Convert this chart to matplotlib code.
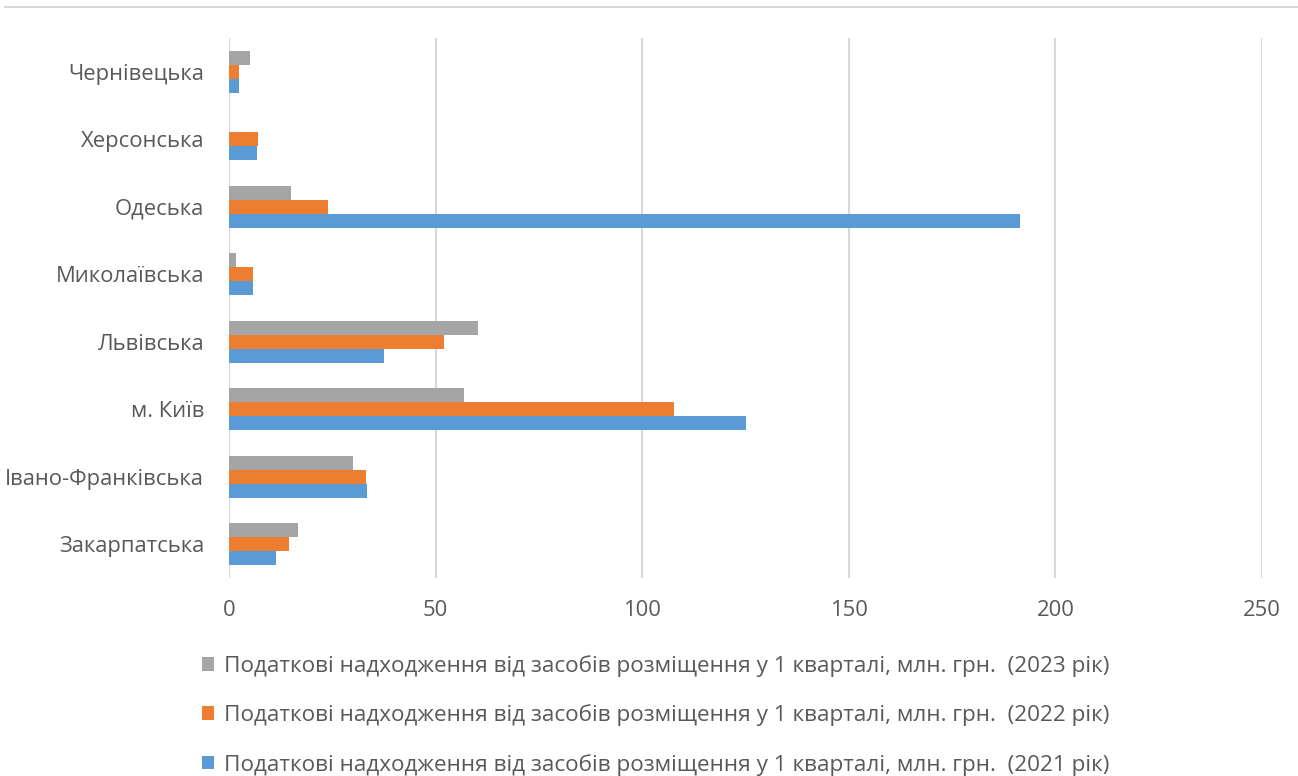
import matplotlib
matplotlib.use("Agg")
import matplotlib.pyplot as plt
from matplotlib.lines import Line2D
import numpy as np

# Regions, listed bottom to top as they appear on the axis
regions = ["Закарпатська", "Івано-Франківська", "м. Київ", "Львівська",
           "Миколаївська", "Одеська", "Херсонська", "Чернівецька"]

# Tax revenues from accommodation facilities, Q1, mln UAH
rev_2021 = [11.3, 33.4, 125.2, 37.5, 5.9, 191.5, 6.7, 2.4]
rev_2022 = [14.5, 33.2, 107.6, 52.0, 5.9, 24.0, 6.9, 2.5]
rev_2023 = [16.6, 30.0, 56.9, 60.3, 1.8, 15.0, 0.0, 5.0]

x_ticks = [0, 50, 100, 150, 200, 250]

label_base = "Податкові надходження від засобів розміщення у 1 кварталі, млн. грн.  "
series = [
    (rev_2023, "#A5A5A5", label_base + "(2023 рік)"),
    (rev_2022, "#ED7D31", label_base + "(2022 рік)"),
    (rev_2021, "#5B9BD5", label_base + "(2021 рік)"),
]

plt.rcParams["font.family"] = ["Open Sans", "DejaVu Sans"]
text_color = "#595959"
grid_color = "#D9D9D9"
fs = 15.8

W, H = 1298, 776
fig = plt.figure(figsize=(W / 100, H / 100), dpi=100)
ax = fig.add_axes([229 / W, (H - 578) / H, (1262 - 229) / W, (578 - 38) / H])

y = np.arange(len(regions))
bar_h = 0.205
offsets = [bar_h, 0.0, -bar_h]

handles = []
for (vals, color, label), off in zip(series, offsets):
    b = ax.barh(y + off, vals, height=bar_h, color=color, label=label, zorder=3)
    handles.append(b)

ax.set_xlim(0, 250)
ax.set_ylim(-0.5, len(regions) - 0.5)
ax.set_xticks(x_ticks)
ax.set_xticklabels([str(t) for t in x_ticks])
ax.set_yticks(y)
ax.set_yticklabels(regions)

ax.grid(axis="x", color=grid_color, linewidth=1.5, zorder=0)
ax.axvline(0, color=grid_color, linewidth=1.5, zorder=1)
for s in ax.spines.values():
    s.set_visible(False)
ax.tick_params(axis="both", length=0, colors=text_color, labelsize=fs)
ax.tick_params(axis="y", pad=18)
ax.tick_params(axis="x", pad=16)

# Thin frame line across the top of the chart area
fig.add_artist(Line2D([5 / W, 1.0], [(H - 7) / H, (H - 7) / H],
                      color=grid_color, linewidth=1.5))

leg = fig.legend(handles=handles, loc="upper left",
                 bbox_to_anchor=(202 / W, (H - 655) / H),
                 frameon=False, fontsize=16.2, labelcolor=text_color,
                 handlelength=0.55, handleheight=0.55, handletextpad=0.42,
                 labelspacing=1.22, borderaxespad=0, borderpad=0)

fig.savefig("out.png", dpi=100, facecolor="white")
